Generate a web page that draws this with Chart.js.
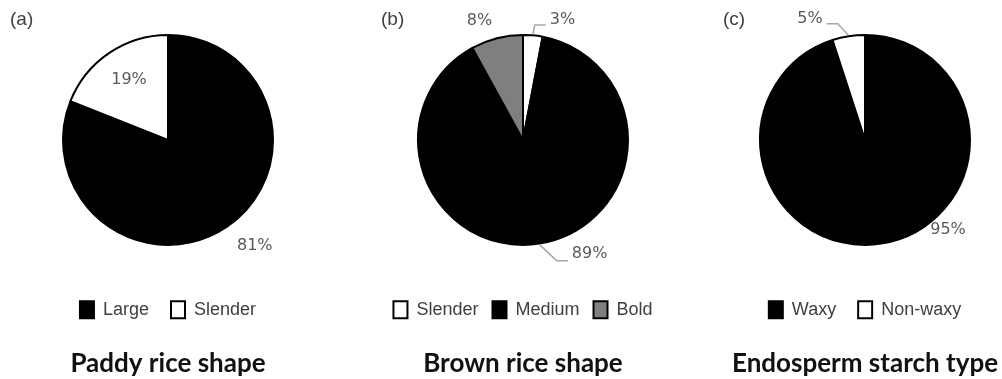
<!DOCTYPE html>
<html>
<head>
<meta charset="utf-8">
<script src="https://cdn.jsdelivr.net/npm/chart.js@4"></script>
<style>
  html, body { margin: 0; padding: 0; background: #fff; overflow: hidden; }
  body { width: 1002px; height: 379px; position: relative; }
  canvas { position: absolute; top: -10px; }
</style>
</head>
<body>
<canvas id="paddy" width="336" height="389" style="left:0px"></canvas>
<canvas id="brown" width="336" height="389" style="left:355px"></canvas>
<canvas id="endo" width="336" height="389" style="left:697px"></canvas>
<script>
const paddyLabels = ["Large", "Slender"];
const paddyValues = [81, 19];
const paddyColors = ["#000000", "#ffffff"];

const brownLabels = ["Slender", "Medium", "Bold"];
const brownValues = [3, 89, 8];
const brownColors = ["#ffffff", "#000000", "#7f7f7f"];

const endoLabels = ["Waxy", "Non-waxy"];
const endoValues = [95, 5];
const endoColors = ["#000000", "#ffffff"];

// % label spots: angle from 12 o'clock (deg), distance as share of radius, optional leader line
const paddySpots = [{ang: 140.6, dist: 1.29}, {ang: 327, dist: 0.675}];
const brownSpots = [
  {ang: 18.2, dist: 1.19, leader: {side: "left", dy: 5}},
  {ang: 149.7, dist: 1.245, leader: {side: "left", dy: 7}},
  {ang: 340, dist: 1.2}
];
const endoSpots = [
  {ang: 137.3, dist: 1.155},
  {ang: 335.6, dist: 1.255, leader: {side: "right", dy: 5}}
];

function pctPlugin(spots, tag, tagX) {
  return {
    id: "pctLabels",
    afterDatasetsDraw(chart) {
      const ctx = chart.ctx;
      const meta = chart.getDatasetMeta(0);
      const values = chart.data.datasets[0].data;
      ctx.save();
      ctx.font = '19px "Liberation Sans"';
      ctx.fillStyle = "#404040";
      ctx.textAlign = "left";
      ctx.textBaseline = "middle";
      ctx.fillText(tag, tagX, 30);

      ctx.font = '16px "DejaVu Sans"';
      ctx.textAlign = "center";
      meta.data.forEach((arc, i) => {
        const p = arc.getProps(["x", "y", "startAngle", "endAngle", "outerRadius"], true);
        const R = p.outerRadius + 1;
        const s = spots[i];
        const a = s.ang * Math.PI / 180 - Math.PI / 2;
        const lx = p.x + Math.cos(a) * s.dist * R;
        const ly = p.y + Math.sin(a) * s.dist * R;
        const txt = values[i] + "%";
        ctx.fillStyle = "#595959";
        ctx.fillText(txt, lx, ly);
        if (s.leader) {
          const w = ctx.measureText(txt).width;
          const dir = s.leader.side === "left" ? -1 : 1;
          const edge = lx + dir * w / 2;
          const lineY = ly + s.leader.dy;
          const mid = (p.startAngle + p.endAngle) / 2;
          ctx.strokeStyle = "#a6a6a6";
          ctx.lineWidth = 1.5;
          ctx.beginPath();
          ctx.moveTo(p.x + Math.cos(mid) * R, p.y + Math.sin(mid) * R);
          ctx.lineTo(edge + dir * 15, lineY);
          ctx.lineTo(edge + dir * 4, lineY);
          ctx.stroke();
        }
      });
      ctx.restore();
    }
  };
}

function makePie(id, labels, values, colors, title, spots, tag, tagX, gap) {
  new Chart(document.getElementById(id), {
    type: "pie",
    data: {
      labels: labels,
      datasets: [{
        data: values,
        backgroundColor: colors,
        borderColor: "#000000",
        borderWidth: 2
      }]
    },
    options: {
      responsive: false,
      animation: false,
      radius: 105,
      layout: { padding: { top: gap - 11 } },
      plugins: {
        tooltip: { enabled: false },
        legend: {
          position: "bottom",
          labels: {
            boxWidth: 14,
            boxHeight: 17,
            padding: gap,
            color: "#404040",
            font: { family: "Liberation Sans", size: 18 }
          }
        },
        title: {
          display: true,
          position: "bottom",
          text: title,
          color: "#111111",
          font: { family: "Lato", size: 26, weight: "bold" },
          padding: { top: 19, bottom: 0 }
        }
      }
    },
    plugins: [pctPlugin(spots, tag, tagX)]
  });
}

makePie("paddy", paddyLabels, paddyValues, paddyColors, "Paddy rice shape", paddySpots, "(a)", 10, 22);
makePie("brown", brownLabels, brownValues, brownColors, "Brown rice shape", brownSpots, "(b)", 26, 14);
makePie("endo", endoLabels, endoValues, endoColors, "Endosperm starch type", endoSpots, "(c)", 26, 22);
</script>
</body>
</html>
